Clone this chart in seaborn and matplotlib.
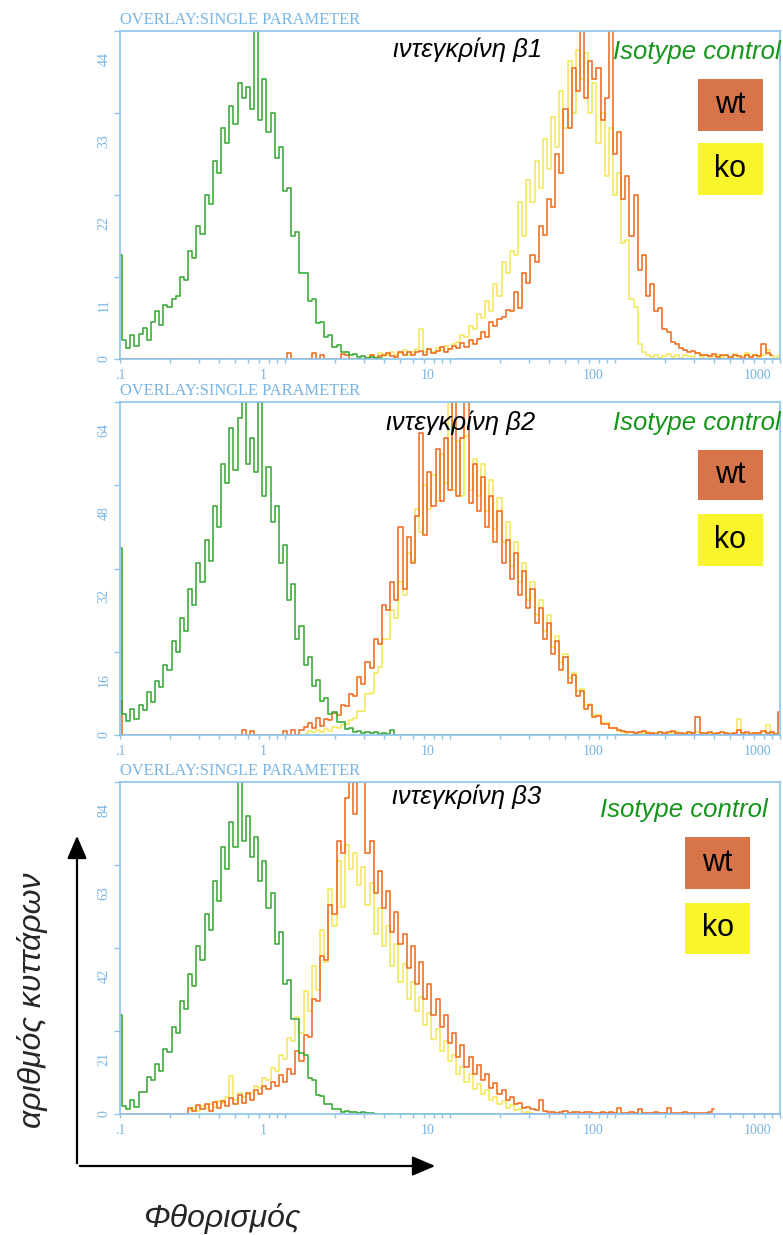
import matplotlib
matplotlib.use("Agg")
import matplotlib.pyplot as plt
import matplotlib.transforms as mtransforms
from matplotlib.patches import Rectangle, FancyArrowPatch
from matplotlib.ticker import LogLocator, NullFormatter
import numpy as np
import pandas as pd
import seaborn as sns

# ---- data (counts per log channel, 40 channels per decade, channel 0 = 0.1) ----
CHANNELS_PER_DECADE = 40

SAMPLES = ["ko", "wt", "isotype", "blank"]
COLORS = {"ko": "#f4e85e", "wt": "#ef6a1c", "isotype": "#3aa836", "blank": "#a85cc4"}

PANEL_TITLES = ["ιντεγκρίνη β1", "ιντεγκρίνη β2", "ιντεγκρίνη β3"]
Y_TICKS = [[0, 11, 22, 33, 44], [0, 16, 32, 48, 64], [0, 21, 42, 63, 84]]
X_TICKS = [0.1, 1, 10, 100, 1000]
X_TICK_LABELS = [".1", "1", "10", "100", "1000"]

# (first channel, counts)
B1_ISO = (0, [14, 2.5, 1.5, 3.2, 1.8, 3.4, 4.2, 2.6, 5, 6.5, 4.6, 7.2, 7, 8, 8.4, 11, 10.6, 14.5,
              13.5, 17.8, 16.8, 22, 20.8, 26.5, 25, 31, 29, 34, 31.5, 37, 35, 36.5, 33.5, 44, 32,
              37.5, 30.5, 33, 27, 28.5, 22.5, 23, 16.5, 17, 11.5, 11.5, 7.8, 8, 4.8, 5, 3, 3.2,
              1.6, 1.9, 1, 1, 0.5, 0.7, 0.3, 0.4, 0.2, 0.3, 0.1, 0.2, 0])
B1_WT = (0, [0.0] * 41 + [0.8, 0, 0, 0, 0, 0, 0.8, 0, 0.6, 0, 0, 0, 0, 0.7, 0.5, 0, 0, 0, 0,
             0.2, 0.5, 0.2, 0.4, 0.6, 0.8, 0.4, 0.3, 0.9, 0.5, 1, 0.5, 0.9, 1.1, 0.6, 1.3, 0.8,
             1.1, 1.6, 1, 1.3, 1.7, 1.5, 2.1, 1.6, 2.6, 2, 2.7,
             3.6, 3, 5, 4.4, 5.4, 5.6, 6.6, 6.4, 9, 6.8, 11.5, 10.2, 14, 13, 17.8, 16.6, 21.5,
             20.4, 27.5, 25, 33.5, 31, 39, 36, 46, 35, 40, 37.5, 39, 32, 35, 46, 27.5, 30.5, 21.5,
             24.5, 16.5, 22, 12, 14, 8.5, 10, 6.5, 6.8, 4, 3.6, 2.3,
             2, 1.5, 1.2, 1, 1.1, 0.8, 0.5, 0.6, 0.4, 0.7, 0.3, 0.5, 0.6, 0.3, 0.5, 0.4, 0.2, 0.5,
             0.3, 0.6, 0.4, 2, 0.8, 0.5])
B1_KO = (60, [0.3, 0.6, 0.3, 0.8, 0.4, 0.5, 1, 0.5, 0.8, 1.2, 0.6, 1, 1.4, 4, 1, 1.3, 0.9, 1.5,
              1.2, 1.8, 1.4, 2, 2.3, 3.2, 3, 4.4, 4, 6, 5.5, 7.8, 6.5, 10, 8.5, 13, 11.5, 14.5, 14,
              21, 16.5, 24, 21, 26.5, 23, 29.5, 25.5, 32.5, 28.5, 36, 31, 40, 33, 41.5, 37.5, 41,
              33, 37, 29, 33, 24.5, 31, 22, 25, 15.5, 16, 8, 7, 2, 1, 0.5, 0.3, 0.6, 0.2, 0.4, 0.7,
              0.3, 0.5, 0.2, 0.6, 0.4, 0.3, 0.8, 0.3, 0.5, 0.2, 0.4, 0.6, 0.3, 0.5, 0.2, 0.7, 0.3,
              0.4, 0.8, 0.2, 0.5, 0.3, 0.6, 1.2, 0.4, 0.3, 0.5])
B1_BLANK = (82, [0.0] * 79)

B2_ISO = (0, [36, 4, 2.6, 5, 3, 5.8, 4.8, 8.2, 6.4, 10.4, 9.2, 13.5, 12.5, 18, 16, 22.5, 20, 28,
              25, 33, 29.5, 37.5, 33.5, 44, 40, 52, 48.5, 59, 51, 61, 66, 52, 57, 50.5, 64, 46,
              51.5, 41, 44, 33, 36.5, 26, 29, 18.5, 21, 13.5, 15, 9.5, 10.5, 6.5, 7.2, 4, 4.5,
              2.5, 2.5, 1.2, 1.3, 0.6, 0.7, 0.4, 0.5, 0.3, 0.5, 0.2, 0.4, 0.2, 1] + [0.0] * 57)
B2_WT = (0, [6.5] + [0.0] * 29 + [1, 0, 0.8] + [0.0] * 7 + [0.8, 0, 1, 0, 1,
             1.5, 2.4, 1.3, 3.3, 1.8, 3.1, 2.9, 4.3, 3.8, 5.8, 5.6, 7.9, 7.4,
             11.2, 9.8, 14, 12.8, 18.5, 17.5, 25, 24, 29.5, 26, 40, 28, 38, 33, 42, 58, 38.5,
             50.5, 44, 55, 45, 57, 47, 64, 46, 57, 64, 44.5, 52, 43, 49.5, 40, 46, 37, 43, 33,
             37.5, 30, 35, 27, 31.5, 24.5, 28, 21.5, 24.5, 18.5, 21.5, 15.5, 18, 12.5, 15, 10,
             11.5, 7.5, 8.5, 5, 5.8, 3.4, 3.6, 2.1, 2.2, 1.3, 1.4, 0.9, 0.8,
             0.5, 0.6, 0.3, 0.5, 0.7, 0.3, 0.4, 0.2, 0.6, 0.3, 0.5, 0.8, 0.3, 0.4, 0.2, 0.5, 0.3,
             3.5, 0.4, 0.3, 0.6, 0.2, 0.4, 0.5, 0.3, 0.2, 0.4, 1, 0.3, 0.5, 0.2, 0.4, 0.3, 0.8,
             0.3, 0.5, 0.2, 4.5])
B2_KO = (45, [0.3, 0.8, 0.5, 1, 0.6, 1.2, 0.8, 1.5, 1.3, 2, 2.2, 2.8, 3.2, 4.6, 4.6, 7.8, 8, 12,
              13, 18.5, 18.5, 24, 22.5, 29.5, 27, 35, 33.5, 43.5, 39, 48, 43.5, 50, 45, 54, 48.5,
              64, 47, 56.5, 46, 57.5, 47, 53, 46, 52, 43, 49, 39.5, 45.5, 37, 41, 32.5, 37, 29.5,
              33, 26, 29.5, 23, 26, 20, 23, 17, 19, 14, 15.6, 11, 12, 8.4, 8.8, 5.8, 6, 3.8, 3.8,
              2.4, 2.4, 1.3, 1.3, 0.7, 0.5, 0.3, 0.6, 0.2, 0.4, 0.3, 0.5, 0.2, 0.3, 0.6, 0.2, 0.4,
              0.3, 0.5, 0.2, 0.3, 0.4, 0.2, 0.5, 0.3, 0.2, 0.4, 0.3, 0.2, 0.5, 0.3, 0.2, 0.4, 3,
              0.3, 0.2, 0.4, 0.3, 0.2, 0.5, 2, 0.3, 0.2, 0.4])
B2_BLANK = (124, [0.0] * 37)

B3_ISO = (0, [25, 2, 1.2, 3.6, 1.8, 5.6, 5.6, 9.4, 8.6, 12.6, 10.8, 16.5, 15.8, 22, 20.5, 28.5,
              26.5, 35.5, 32.5, 42.5, 39, 50.5, 46.5, 59, 54, 67.5, 62, 74, 67.5, 88, 69, 75.5,
              65, 70, 59, 64, 52, 56, 43, 46, 33, 34, 24, 24, 15.5, 15, 9, 8.5, 4.8, 4.5, 2.6,
              2.5, 1.2, 1.2, 0.6, 0.8, 0.4, 0.6, 0.3, 0.5, 0.2, 0.3] + [0.0] * 31)
B3_WT = (0, [0.0] * 17 + [1.5, 0.8, 2.2, 1.2, 2.6, 0.8, 3, 1.6, 3.4, 2, 4, 2.6, 4.8, 2.8, 5.2,
             3.6, 6, 5, 7, 6.2, 8.2, 7, 9.8, 8.2, 11.4,
             10, 16, 13.5, 20, 19.5, 29, 28.5, 40, 39, 53, 50.5, 69, 66, 80, 90, 76, 84, 90, 66, 69,
             56, 61.5, 52, 56.5, 46, 51, 43, 45.5, 37, 42.5, 33, 38.5, 29, 33, 25, 29, 22, 25, 18,
             20.5, 14.5, 17.5, 12, 14.5, 10, 12.5, 8.5, 10, 6.5, 7.8, 5, 6, 3.6, 4.4, 2.6, 2.8,
             1.6, 1.8, 1.2, 1,
             3.5, 0.8, 0.5, 0.6, 0.3, 0.5, 0.7, 0.3, 0.4, 0.6, 0.2, 0.4, 0.5, 0.3, 0.2, 0.4, 0.3,
             0.5, 0.2, 1.5, 0.3, 0.2, 0.4, 0.3, 1.2, 0.2, 0.3, 0.2, 0.4, 0.2, 0.3, 1.5, 0.2, 0.3,
             0.2, 0.4, 0.2, 0.3, 0.2, 0.3, 0.2, 0.4, 1.2])
B3_KO = (17, [1, 1.6, 0.8, 2, 1.4, 2.6, 1.8, 3.4, 2.8, 4.2, 9.5, 3.6, 5.4, 4.4, 5, 5.2, 7.2, 6.6,
              9.2, 8.6, 11.6, 11, 15, 14, 19.2,
              18.5, 24.5, 20.5, 31, 26, 37.5, 31.5, 46.5, 38.5, 57, 47.5, 64, 52.5, 68, 62, 66, 58,
              62.5, 53, 58.5, 45.5, 52, 42.5, 47.5, 37.5, 43, 33.5, 38, 29, 33.5, 26, 29.5, 22.5,
              25.5, 19, 21.5, 16, 18.5, 13.5, 15, 10.2, 12, 8.2, 10, 6.4, 7.6, 5, 6, 3.6, 4.2, 2.6,
              3.4, 1.6, 2.4, 1, 1.2, 0.3, 0.6, 0.2])
B3_BLANK = (93, [0.0] * 68)

PANELS = [
    {"ko": B1_KO, "wt": B1_WT, "isotype": B1_ISO, "blank": B1_BLANK},
    {"ko": B2_KO, "wt": B2_WT, "isotype": B2_ISO, "blank": B2_BLANK},
    {"ko": B3_KO, "wt": B3_WT, "isotype": B3_ISO, "blank": B3_BLANK},
]

# ---- layout (pixels, top-left origin) ----
W, H = 783, 1235
AXES_PX = [(120, 31, 780, 359), (120, 402, 780, 735), (120, 782, 780, 1114)]
TITLE_PX = [(468, 50), (461, 423), (467, 797)]
ISO_PX = [(781, 52), (781, 423), (768, 810)]
BOX_X = [(698, 763), (698, 763), (685, 750)]
WT_Y = [(79, 131), (450, 500), (837, 889)]
KO_Y = [(143, 195), (514, 566), (903, 954)]

AXIS_BLUE = "#8cc4ec"
LABEL_BLUE = "#78b4e4"


def panel_frame(series):
    parts = []
    for name in SAMPLES:
        start, counts = series[name]
        ch = np.arange(start, start + len(counts))
        parts.append(pd.DataFrame({
            "fl": 0.1 * 10 ** (ch / CHANNELS_PER_DECADE),
            "count": counts,
            "sample": name,
        }))
    return pd.concat(parts, ignore_index=True)


def fx(x):
    return x / W


def fy(y):
    return 1 - y / H


sns.set_theme(style="white")
plt.rcParams["font.family"] = ["Liberation Sans", "DejaVu Sans"]

fig = plt.figure(figsize=(W / 100, H / 100), dpi=100)

for i, series in enumerate(PANELS):
    x0, y0, x1, y1 = AXES_PX[i]
    ax = fig.add_axes([fx(x0), fy(y1), (x1 - x0) / W, (y1 - y0) / H])
    df = panel_frame(series)
    sns.lineplot(data=df, x="fl", y="count", hue="sample", hue_order=SAMPLES,
                 palette=COLORS, estimator=None, errorbar=None, sort=True,
                 drawstyle="steps-mid", linewidth=1.15, legend=False, ax=ax)
    ax.set_xscale("log")
    ax.set_xlim(0.1, 1000)
    ax.set_ylim(0, Y_TICKS[i][-1])
    ax.set_xlabel("")
    ax.set_ylabel("")

    for sp in ax.spines.values():
        sp.set_visible(True)
        sp.set_color(AXIS_BLUE)
        sp.set_linewidth(1.2)

    ax.set_xticks(X_TICKS)
    ax.set_xticklabels(X_TICK_LABELS, family="Liberation Serif", fontsize=10, color=LABEL_BLUE)
    ax.xaxis.set_minor_locator(LogLocator(base=10, subs=np.arange(2, 10)))
    ax.xaxis.set_minor_formatter(NullFormatter())
    ax.set_yticks(Y_TICKS[i])
    ax.set_yticklabels([str(t) for t in Y_TICKS[i]], family="Liberation Serif", fontsize=10,
                       color=LABEL_BLUE, rotation=90, va="center")
    ax.tick_params(axis="x", which="both", direction="out", length=3, width=1,
                   color=AXIS_BLUE, pad=4, bottom=True)
    ax.tick_params(axis="y", which="major", direction="out", length=4, width=1,
                   color=AXIS_BLUE, pad=3, left=True)

    # software puts labels between ticks, except the origin label
    for lab in ax.get_xticklabels()[1:]:
        lab.set_transform(lab.get_transform()
                          + mtransforms.ScaledTranslation(-0.22, 0, fig.dpi_scale_trans))
    for lab in ax.get_yticklabels()[1:]:
        lab.set_transform(lab.get_transform()
                          + mtransforms.ScaledTranslation(0, -0.28, fig.dpi_scale_trans))

    fig.text(fx(x0), fy(y0 - 7), "OVERLAY:SINGLE PARAMETER", family="Liberation Serif",
             fontsize=11.8, color=LABEL_BLUE, ha="left", va="baseline")

    tx, ty = TITLE_PX[i]
    fig.text(fx(tx), fy(ty), PANEL_TITLES[i], fontsize=18.5, style="italic",
             color="black", ha="center", va="center")
    ix, iy = ISO_PX[i]
    fig.text(fx(ix), fy(iy), "Isotype control", fontsize=18.5, style="italic",
             color="#15961a", ha="right", va="center")

    bx0, bx1 = BOX_X[i]
    for (by0, by1), label, col in [(WT_Y[i], "wt", "#d8744a"), (KO_Y[i], "ko", "#f8f62a")]:
        fig.add_artist(Rectangle((fx(bx0), fy(by1)), (bx1 - bx0) / W, (by1 - by0) / H,
                                 transform=fig.transFigure, facecolor=col, edgecolor="none"))
        fig.text(fx((bx0 + bx1) / 2), fy((by0 + by1) / 2), label, fontsize=22,
                 color="black", ha="center", va="center")

# axis arrows in the corner
corner = (fx(77), fy(1166))
fig.add_artist(FancyArrowPatch(corner, (fx(77), fy(833)), transform=fig.transFigure,
                               arrowstyle="-|>,head_length=0.7,head_width=0.3",
                               mutation_scale=20, lw=1.6, color="black"))
fig.add_artist(FancyArrowPatch(corner, (fx(438), fy(1166)), transform=fig.transFigure,
                               arrowstyle="-|>,head_length=0.7,head_width=0.3",
                               mutation_scale=20, lw=1.6, color="black"))
fig.text(fx(33), fy(1000), "αριθμός κυττάρων", fontsize=23, style="italic",
         rotation=90, ha="center", va="center")
fig.text(fx(222), fy(1218), "Φθορισμός", fontsize=23, style="italic",
         ha="center", va="center")

fig.savefig("out.png", dpi=100)
